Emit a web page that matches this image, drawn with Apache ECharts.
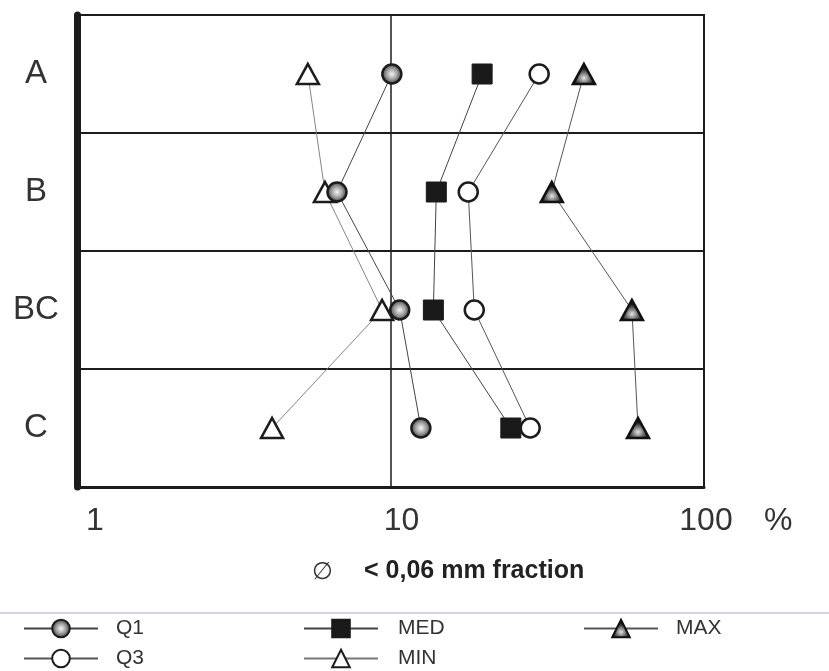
<!DOCTYPE html>
<html>
<head>
<meta charset="utf-8">
<script src="https://cdn.jsdelivr.net/npm/echarts@6/dist/echarts.min.js"></script>
<style>
  html, body { margin: 0; padding: 0; background: #fff; }
  #chart { width: 829px; height: 671px; }
</style>
</head>
<body>
<div id="chart"></div>
<script>
// Soil horizons, top to bottom
const horizons = ['A', 'B', 'BC', 'C'];

// Share of the < 0,06 mm fraction (%), one value per horizon
const q1Values  = [10.1, 6.75, 10.7, 12.5];
const medValues = [19.6, 14.0, 13.7, 24.2];
const q3Values  = [29.8, 17.7, 18.5, 27.9];
const minValues = [5.45, 6.18, 9.4, 4.19];
const maxValues = [41.4, 32.7, 58.9, 61.6];

// Log-axis tick labels
const xTickLabels = [1, 10, 100];

const FONT = '"Liberation Sans", Arial, Helvetica, sans-serif';
const INK = '#1c1c1c';
const TEXT = '#333333';

function pairs(values) {
  return values.map((v, i) => [v, horizons[i]]);
}

const q1Fill = {
  type: 'radial', x: 0.5, y: 0.5, r: 0.5,
  colorStops: [
    { offset: 0, color: '#f6f6f6' },
    { offset: 0.5, color: '#a0a0a0' },
    { offset: 1, color: '#333' }
  ]
};
const maxFill = {
  type: 'radial', x: 0.5, y: 0.68, r: 0.45,
  colorStops: [
    { offset: 0, color: '#e6e6e6' },
    { offset: 0.5, color: '#777' },
    { offset: 1, color: '#111' }
  ]
};

const chart = echarts.init(document.getElementById('chart'), null, { renderer: 'canvas' });

// One legend entry per block so the entries sit in fixed columns
function legendEntry(name, left, top, gap) {
  return {
    data: [name],
    left: left,
    top: top,
    padding: 0,
    itemWidth: 74,
    itemHeight: 22,
    textStyle: { fontFamily: FONT, fontSize: 21, color: TEXT, padding: [0, 0, 0, gap] },
    selectedMode: false
  };
}

chart.setOption({
  backgroundColor: '#ffffff',
  animation: false,
  grid: {
    left: 77, right: 125, top: 15, bottom: 184,
    show: true, borderColor: INK, borderWidth: 2,
    containLabel: false
  },
  xAxis: {
    type: 'log',
    logBase: 10,
    min: 1,
    max: 100,
    axisLine: { show: true, onZero: false, lineStyle: { color: INK, width: 3 } },
    axisTick: { show: false },
    splitLine: { show: true, lineStyle: { color: INK, width: 1.5 } },
    axisLabel: {
      margin: 18,
      formatter: v => {
        const key = v === 1 ? 'a' : (v === 10 ? 'b' : 'c');
        return '{' + key + '|' + v + '}';
      },
      rich: {
        a: { fontFamily: FONT, fontSize: 32, color: TEXT, padding: [0, 0, 0, 36] },
        b: { fontFamily: FONT, fontSize: 32, color: TEXT, padding: [0, 0, 0, 22] },
        c: { fontFamily: FONT, fontSize: 32, color: TEXT, padding: [0, 0, 0, 4] }
      },
      customValues: xTickLabels
    }
  },
  yAxis: {
    type: 'category',
    data: horizons,
    inverse: true,
    boundaryGap: true,
    axisLine: { show: true, lineStyle: { color: INK, width: 7 } },
    axisTick: { show: false },
    splitLine: { show: true, lineStyle: { color: INK, width: 2 } },
    axisLabel: {
      margin: 41,
      align: 'center',
      fontFamily: FONT,
      fontSize: 33,
      color: TEXT
    }
  },
  legend: [
    legendEntry('Q1', 23, 618, 13),
    legendEntry('Q3', 23, 648, 13),
    legendEntry('MED', 303, 618, 15),
    legendEntry('MIN', 303, 648, 15),
    legendEntry('MAX', 583, 618, 13)
  ],
  graphic: [
    {
      type: 'line',
      shape: { x1: 0, y1: 613, x2: 829, y2: 613 },
      style: { stroke: '#aaa3c4', lineWidth: 1.2 },
      silent: true
    },
    {
      type: 'text', left: 764, top: 505,
      style: { text: '%', font: '32px ' + FONT, fill: TEXT }
    },
    {
      type: 'text', left: 312, top: 560,
      style: { text: '\u2205', font: '24px ' + FONT, fill: TEXT }
    },
    {
      type: 'text', left: 364, top: 559,
      style: { text: '< 0,06 mm fraction', font: 'bold 25px ' + FONT, fill: '#222' }
    }
  ],
  series: [
    {
      name: 'MIN', type: 'line', data: pairs(minValues),
      symbol: 'triangle', symbolSize: [22, 20],
      lineStyle: { color: '#777', width: 0.9 },
      itemStyle: { color: '#ffffff', borderColor: INK, borderWidth: 2.5 },
      z: 2
    },
    {
      name: 'MAX', type: 'line', data: pairs(maxValues),
      symbol: 'triangle', symbolSize: [22, 20],
      lineStyle: { color: '#555', width: 1 },
      itemStyle: { color: maxFill, borderColor: '#111', borderWidth: 2.5 },
      z: 3
    },
    {
      name: 'MED', type: 'line', data: pairs(medValues),
      symbol: 'rect', symbolSize: 20,
      lineStyle: { color: '#444', width: 1 },
      itemStyle: { color: '#1a1a1a', borderColor: '#1a1a1a', borderWidth: 1 },
      z: 4
    },
    {
      name: 'Q3', type: 'line', data: pairs(q3Values),
      symbol: 'circle', symbolSize: 19,
      lineStyle: { color: '#555', width: 1 },
      itemStyle: { color: '#ffffff', borderColor: INK, borderWidth: 2.5 },
      z: 5
    },
    {
      name: 'Q1', type: 'line', data: pairs(q1Values),
      symbol: 'circle', symbolSize: 19,
      lineStyle: { color: '#444', width: 1 },
      itemStyle: { color: q1Fill, borderColor: INK, borderWidth: 2.5 },
      z: 6
    }
  ]
});
</script>
</body>
</html>
